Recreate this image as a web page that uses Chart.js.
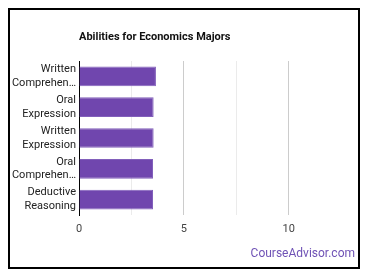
<!DOCTYPE html>
<html>
<head>
<meta charset="utf-8">
<script src="https://cdn.jsdelivr.net/npm/chart.js@4"></script>
<style>
html, body { margin: 0; padding: 0; background: #fff; }
#wrap { position: relative; width: 370px; height: 278px; overflow: hidden; }
#frame { position: absolute; left: 8px; top: 8px; width: 348px; height: 257px; border: 2px solid #000; }
#title { position: absolute; left: 79px; top: 30px; font: bold 11px Roboto, sans-serif; color: #111; }
#brand { position: absolute; right: 15px; top: 246px; font: 12px Roboto, sans-serif; color: #6f52b5; }
canvas { position: absolute; left: 0; top: 0; }
</style>
</head>
<body>
<div id="wrap">
<div id="frame"></div>
<canvas id="barChart" width="370" height="278"></canvas>
<div id="title">Abilities for Economics Majors</div>
<div id="brand">CourseAdvisor.com</div>
</div>
<script>
// abilities
var nombres = [
  ['Written', 'Comprehen…'],
  ['Oral', 'Expression'],
  ['Written', 'Expression'],
  ['Oral', 'Comprehen…'],
  ['Deductive', 'Reasoning']
];
var puntos = [3.67, 3.56, 3.56, 3.53, 3.53];
var tickLabels = [0, 5, 10];

var bar = document.getElementById("barChart").getContext('2d');

var myBarChart = new Chart(bar, {
type: 'bar',
data: {
labels: nombres,
datasets: [{
label: 'Abilities',
data: puntos,
backgroundColor: '#7046ae',
borderColor: '#8260bb',
borderWidth: 1,
barPercentage: 0.64,
categoryPercentage: 1
}]
},
options: {
indexAxis: 'y',
responsive: false,
animation: false,
layout: { padding: { left: 0, right: 31, top: 61, bottom: 38 } },
plugins: {
    legend: { display: false },
    tooltip: { enabled: false }
},
scales: {
    x: {
        min: 0,
        max: 12.4,
        afterFit: function (s) { s.height = 25; },
        afterBuildTicks: function (s) {
            s.ticks = [0, 2.5, 5, 7.5, 10].map(function (v) { return { value: v }; });
        },
        border: { display: false },
        grid: {
            drawTicks: false,
            color: function (c) {
                if (c.tick.value === 0) return 'transparent';
                return tickLabels.indexOf(c.tick.value) >= 0 ? '#cccccc' : '#ebebeb';
            }
        },
        ticks: {
            padding: 8,
            color: '#444',
            font: { family: 'Roboto', size: 11 },
            callback: function (v) { return tickLabels.indexOf(v) >= 0 ? String(v) : ''; }
        }
    },
    y: {
        afterFit: function (s) { s.width = 79; },
        border: { display: true, color: '#000', width: 1 },
        grid: { display: false, drawTicks: false },
        ticks: {
            padding: 3,
            color: '#222',
            font: { family: 'Roboto', size: 11, lineHeight: 1.25 }
        }
    }
}
}
});
</script>
</body>
</html>
